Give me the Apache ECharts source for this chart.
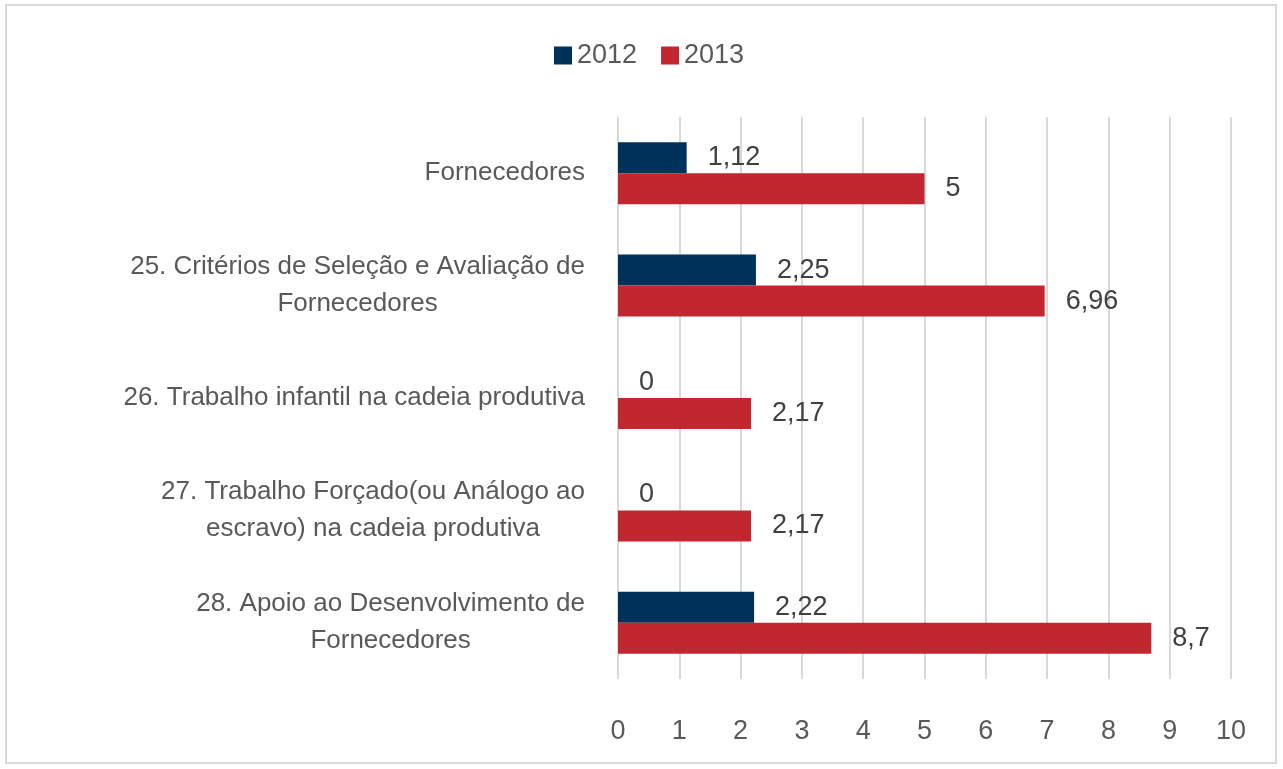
<!DOCTYPE html>
<html>
<head>
<meta charset="utf-8">
<script src="https://cdn.jsdelivr.net/npm/echarts@6/dist/echarts.min.js"></script>
<style>
  html, body { margin: 0; padding: 0; background: #fff; }
  #chart { width: 1283px; height: 769px; }
</style>
</head>
<body>
<div id="chart"></div>
<script>
const categories = [
  'Fornecedores',
  '25. Critérios de Seleção e Avaliação de\nFornecedores',
  '26. Trabalho infantil na cadeia produtiva',
  '27. Trabalho Forçado(ou Análogo ao\nescravo) na cadeia produtiva',
  '28. Apoio ao Desenvolvimento de\nFornecedores'
];
const values2012 = [1.12, 2.25, 0, 0, 2.22];
const values2013 = [5, 6.96, 2.17, 2.17, 8.7];
const xTicks = [0, 10, 1]; // min, max, interval

const font = '"Liberation Sans", Arial, sans-serif';
const fmt = p => String(p.value).replace('.', ',');

const chart = echarts.init(document.getElementById('chart'));
chart.setOption({
  animation: false,
  textStyle: { fontFamily: font },
  graphic: [{
    type: 'rect',
    shape: { x: 6, y: 5, width: 1270, height: 758 },
    style: { fill: 'none', stroke: '#d9d9d9', lineWidth: 2 }
  }],
  legend: {
    top: 37, left: 549,
    itemWidth: 18, itemHeight: 18, itemGap: 24,
    icon: 'rect',
    textStyle: { fontSize: 27, color: '#595959', fontFamily: font },
    data: ['2012', '2013']
  },
  grid: { left: 618, right: 52, top: 117, bottom: 90 },
  xAxis: {
    type: 'value',
    min: xTicks[0], max: xTicks[1], interval: xTicks[2],
    axisLine: { show: false },
    axisTick: { show: false },
    splitLine: { lineStyle: { color: '#d9d9d9', width: 2 } },
    axisLabel: { fontSize: 27, color: '#595959', margin: 39, fontFamily: font }
  },
  yAxis: {
    type: 'category',
    inverse: true,
    data: categories,
    axisLine: { show: false },
    axisTick: { show: false },
    axisLabel: {
      margin: 33,
      fontSize: 26,
      color: '#595959',
      formatter: v => v.split('\n').map(s => '{c|' + s + '}').join('\n'),
      rich: { c: { align: 'center', fontSize: 26, lineHeight: 37, color: '#595959', fontFamily: font } }
    }
  },
  series: [
    {
      name: '2012', type: 'bar', data: values2012,
      barWidth: 31, barGap: '0%',
      itemStyle: { color: '#003158' },
      label: { show: true, position: 'right', distance: 21, fontSize: 27, color: '#404040', formatter: fmt, fontFamily: font }
    },
    {
      name: '2013', type: 'bar', data: values2013,
      barWidth: 31, barGap: '0%',
      itemStyle: { color: '#c1272f' },
      label: { show: true, position: 'right', distance: 21, fontSize: 27, color: '#404040', formatter: fmt, fontFamily: font }
    }
  ]
});
</script>
</body>
</html>
